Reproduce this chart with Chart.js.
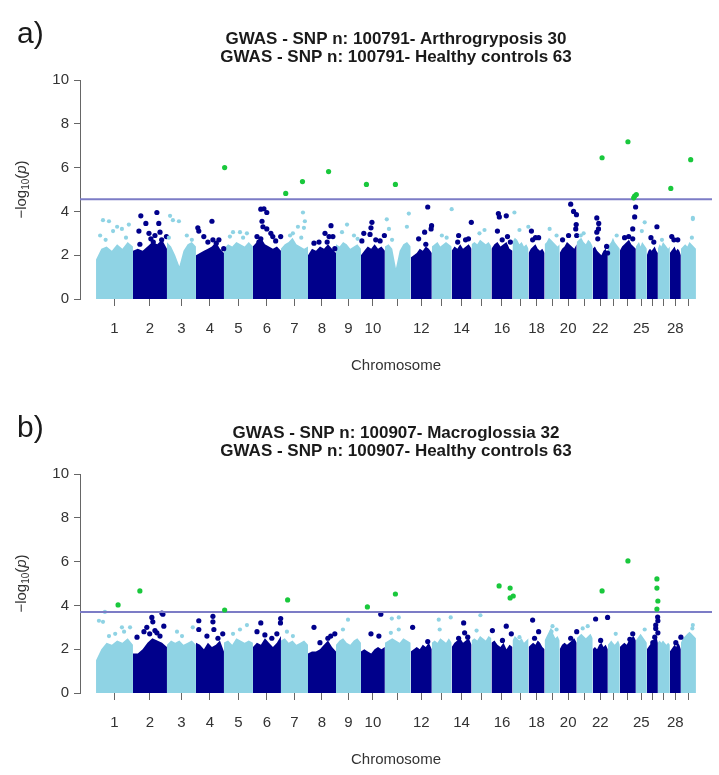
<!DOCTYPE html>
<html>
<head>
<meta charset="utf-8">
<script src="https://cdn.jsdelivr.net/npm/chart.js@4.4.1/dist/chart.umd.min.js"></script>
<style>
  html, body { margin: 0; padding: 0; background: #fff; overflow: hidden; }
  canvas { position: absolute; left: 0; }
  #chartA { top: 0; }
  #chartB { top: 394px; }
</style>
</head>
<body>
<canvas id="chartA" width="719" height="394"></canvas>
<canvas id="chartB" width="719" height="394"></canvas>
<script>
// chromosome lengths (Mb)
const chrLen = [154, 142, 121, 117, 121, 117, 113, 117, 104, 100, 108, 88, 83, 83, 83, 88, 67, 67, 63, 71, 67, 63, 50, 67, 46, 46, 50, 46, 63];
const chrLabels = ['1', '2', '3', '4', '5', '6', '7', '8', '9', '10', '', '12', '', '14', '', '16', '', '18', '', '20', '', '22', '', '', '25', '', '', '28', ''];
const yTicks = [0, 2, 4, 6, 8, 10];

// panel a) arthrogryposis
const titleA = ['GWAS - SNP n: 100791- Arthrogryposis 30', 'GWAS - SNP n: 100791- Healthy controls 63'];
const thresholdA = 4.56;
// top of the dense cloud, 8 samples along each chromosome
const cloudA = [
    [1.8, 2.3, 2.4, 2.2, 2.5, 2.3, 2.6, 2.4], [2.2, 2.3, 2.2, 2.4, 2.6, 2.5, 2.7, 2.3],
    [2.6, 2.4, 2.0, 1.5, 2.2, 2.5, 2.6, 2.4], [2.0, 2.1, 2.2, 2.3, 2.4, 2.6, 2.3, 2.1],
    [2.3, 2.5, 2.4, 2.6, 2.5, 2.4, 2.6, 2.4], [2.4, 2.6, 2.8, 2.5, 2.4, 2.3, 2.4, 2.2],
    [2.3, 2.5, 2.6, 2.8, 2.5, 2.4, 2.3, 2.4], [2.0, 2.3, 2.2, 2.4, 2.3, 2.5, 2.3, 2.1],
    [2.5, 2.4, 2.6, 2.5, 2.3, 2.4, 2.5, 2.3], [2.0, 2.2, 2.4, 2.3, 2.5, 2.3, 2.4, 2.2],
    [2.4, 2.5, 2.3, 1.4, 2.2, 2.5, 2.6, 2.4], [1.9, 2.0, 2.1, 2.3, 2.2, 2.4, 2.3, 2.1],
    [2.4, 2.5, 2.6, 2.4, 2.5, 2.6, 2.5, 2.4], [2.2, 2.4, 2.3, 2.5, 2.3, 2.4, 2.5, 2.3],
    [2.5, 2.6, 2.5, 2.7, 2.6, 2.5, 2.6, 2.4], [2.3, 2.5, 2.6, 2.4, 2.5, 2.6, 2.3, 2.2],
    [2.6, 2.8, 2.7, 2.5, 2.6, 2.4, 2.5, 2.3], [2.1, 2.3, 2.4, 2.5, 2.3, 2.2, 2.3, 2.1],
    [2.5, 2.6, 2.8, 2.7, 2.6, 2.5, 2.4, 2.5], [2.1, 2.3, 2.4, 2.6, 2.5, 2.4, 2.3, 2.5],
    [2.6, 2.7, 2.8, 2.6, 2.5, 2.7, 2.6, 2.4], [2.3, 2.4, 2.2, 2.1, 2.0, 2.2, 2.3, 2.0],
    [2.3, 2.5, 2.6, 2.8, 2.6, 2.5, 2.4, 2.3], [2.2, 2.4, 2.5, 2.6, 2.7, 2.5, 2.4, 2.3],
    [2.4, 2.5, 2.6, 2.4, 2.6, 2.5, 2.4, 2.3], [2.0, 2.2, 2.3, 2.2, 2.3, 2.4, 2.2, 2.1],
    [2.3, 2.5, 2.4, 2.6, 2.5, 2.4, 2.3, 2.4], [2.1, 2.2, 2.3, 2.4, 2.2, 2.3, 2.2, 2.0],
    [2.3, 2.4, 2.5, 2.4, 2.6, 2.5, 2.4, 2.3]
];
// single SNPs above the cloud: [chromosome, position Mb, -log10 p]
const snpsA = [
    [1, 29, 3.6], [1, 54, 3.55], [1, 88, 3.3], [1, 137, 3.4], [1, 108, 3.2], [1, 71, 3.1], [1, 17, 2.9], [1, 125, 2.8], [1, 40, 2.7],
    [2, 100, 3.95], [2, 33, 3.8], [2, 108, 3.45], [2, 54, 3.45], [2, 25, 3.1], [2, 113, 3.05], [2, 75, 2.75], [2, 92, 2.9], [2, 67, 3.0], [2, 140, 2.85], [2, 29, 2.5], [2, 120, 2.7], [2, 85, 2.6],
    [3, 13, 3.8], [3, 25, 3.6], [3, 50, 3.55], [3, 83, 2.9], [3, 104, 2.7], [3, 8, 2.8],
    [4, 67, 3.55], [4, 8, 3.25], [4, 12, 3.1], [4, 33, 2.85], [4, 96, 2.7], [4, 116, 2.3], [4, 71, 2.7], [4, 50, 2.6], [4, 85, 2.55],
    [5, 38, 3.05], [5, 67, 3.05], [5, 96, 3.0], [5, 25, 2.85], [5, 80, 2.8],
    [6, 33, 4.1], [6, 46, 4.12], [6, 58, 3.95], [6, 38, 3.55], [6, 42, 3.3], [6, 58, 3.2], [6, 75, 3.0], [6, 33, 2.75], [6, 116, 2.85], [6, 17, 2.85], [6, 83, 2.85], [6, 95, 2.65], [6, 25, 2.6],
    [7, 92, 3.95], [7, 100, 3.55], [7, 96, 3.25], [7, 71, 3.3], [7, 50, 3.0], [7, 38, 2.9], [7, 85, 2.8],
    [8, 96, 3.35], [8, 71, 3.0], [8, 88, 2.85], [8, 104, 2.85], [8, 25, 2.55], [8, 112, 2.3], [8, 46, 2.6], [8, 80, 2.6],
    [9, 46, 3.4], [9, 25, 3.05], [9, 75, 2.9], [9, 90, 2.75],
    [10, 46, 3.5], [10, 42, 3.25], [10, 12, 3.0], [10, 38, 2.95], [10, 4, 2.65], [10, 98, 2.9], [10, 62, 2.7], [10, 80, 2.65],
    [11, 8, 3.64], [11, 17, 3.2], [11, 100, 3.9], [11, 92, 3.3], [11, 30, 2.7],
    [12, 71, 4.2], [12, 87, 3.35], [12, 85, 3.2], [12, 58, 3.05], [12, 33, 2.75], [12, 63, 2.5],
    [13, 83, 4.1], [13, 42, 2.9], [13, 62, 2.8],
    [14, 82, 3.5], [14, 29, 2.9], [14, 58, 2.7], [14, 25, 2.6], [14, 70, 2.75],
    [15, 33, 3.0], [15, 54, 3.15],
    [16, 29, 3.9], [16, 33, 3.75], [16, 62, 3.8], [16, 25, 3.1], [16, 67, 2.85], [16, 79, 2.6], [16, 45, 2.7],
    [17, 8, 3.95], [17, 66, 3.3], [17, 29, 3.15],
    [18, 12, 3.1], [18, 29, 2.8], [18, 42, 2.8], [18, 17, 2.7],
    [19, 21, 3.2], [19, 50, 2.9],
    [20, 46, 4.33], [20, 58, 4.0], [20, 70, 3.85], [20, 69, 3.4], [20, 67, 3.2], [20, 71, 2.9], [20, 37, 2.9], [20, 12, 2.7],
    [21, 17, 2.9], [21, 29, 3.0],
    [22, 17, 3.7], [22, 25, 3.45], [22, 24, 3.2], [22, 17, 3.05], [22, 21, 2.75], [22, 62, 2.1], [22, 58, 2.4],
    [23, 37, 2.9],
    [24, 66, 4.2], [24, 62, 3.75], [24, 54, 3.2], [24, 37, 2.85], [24, 54, 2.75], [24, 20, 2.8],
    [25, 37, 3.5], [25, 25, 3.1],
    [26, 42, 3.3], [26, 17, 2.8], [26, 29, 2.6],
    [27, 17, 2.7],
    [28, 8, 2.85], [28, 17, 2.7], [28, 33, 2.7],
    [29, 50, 3.7], [29, 50, 3.65], [29, 46, 2.8]
];
// SNPs above the significance line (green)
const hitsA = [
    [5, 3, 6.0], [7, 20, 4.82], [7, 90, 5.36], [8, 86, 5.82], [10, 23, 5.23], [11, 44, 5.23],
    [22, 39, 6.45], [24, 34, 7.18], [24, 58, 4.62], [24, 62, 4.7], [25, 2, 4.77], [28, 4, 5.05], [29, 41, 6.36]
];

// panel b) macroglossia
const titleB = ['GWAS - SNP n: 100907- Macroglossia 32', 'GWAS - SNP n: 100907- Healthy controls 63'];
const thresholdB = 3.7;
const cloudB = [
    [1.5, 2.0, 2.3, 2.2, 2.4, 2.3, 2.5, 2.2], [1.8, 1.8, 2.0, 2.3, 2.5, 2.4, 2.3, 2.1],
    [2.2, 2.4, 2.3, 2.4, 2.2, 2.3, 2.4, 2.2], [2.3, 2.2, 2.0, 2.3, 2.1, 2.2, 2.4, 1.9],
    [2.3, 2.4, 2.2, 2.5, 2.4, 2.3, 2.4, 2.3], [2.1, 2.3, 2.2, 2.5, 2.3, 2.1, 2.3, 2.6],
    [2.4, 2.5, 2.3, 2.4, 2.2, 2.3, 2.4, 2.2], [1.8, 1.9, 1.9, 2.0, 2.2, 2.4, 2.1, 1.9],
    [2.2, 2.4, 2.5, 2.3, 2.2, 2.4, 2.5, 2.3], [1.9, 2.0, 1.9, 1.8, 2.0, 2.1, 2.0, 2.1],
    [2.3, 2.4, 2.5, 2.4, 2.3, 2.5, 2.4, 2.3], [1.9, 2.0, 2.1, 2.0, 2.2, 2.1, 2.3, 2.0],
    [2.3, 2.4, 2.3, 2.5, 2.4, 2.3, 2.5, 2.3], [2.1, 2.3, 2.4, 2.5, 2.3, 2.4, 2.5, 2.2],
    [2.4, 2.5, 2.4, 2.6, 2.5, 2.4, 2.6, 2.5], [2.3, 2.4, 2.2, 2.1, 2.3, 2.0, 2.2, 2.1],
    [2.4, 2.6, 2.5, 2.4, 2.5, 2.3, 2.4, 2.5], [2.1, 2.2, 2.3, 2.2, 2.4, 2.3, 2.1, 2.0],
    [2.4, 2.6, 2.8, 3.0, 2.7, 2.5, 2.6, 2.4], [2.0, 2.2, 2.3, 2.2, 2.3, 2.4, 2.5, 2.3],
    [2.5, 2.6, 2.7, 2.6, 2.5, 2.6, 2.7, 2.5], [2.0, 2.1, 2.0, 2.2, 2.3, 2.1, 2.2, 2.0],
    [2.2, 2.3, 2.4, 2.3, 2.2, 2.3, 2.4, 2.2], [2.1, 2.2, 2.3, 2.2, 2.4, 2.5, 2.6, 2.4],
    [2.4, 2.5, 2.6, 2.7, 2.6, 2.5, 2.4, 2.3], [2.0, 2.1, 2.2, 2.3, 2.4, 2.5, 2.6, 2.3],
    [2.3, 2.4, 2.3, 2.4, 2.3, 2.2, 2.3, 2.2], [1.9, 2.0, 2.1, 2.2, 2.1, 2.3, 2.2, 2.0],
    [2.3, 2.5, 2.6, 2.7, 2.8, 2.7, 2.6, 2.5]
];
const snpsB = [
    [1, 12, 3.3], [1, 29, 3.25], [1, 37, 3.7], [1, 108, 3.0], [1, 142, 3.0], [1, 54, 2.6], [1, 117, 2.8], [1, 80, 2.7],
    [2, 79, 3.45], [2, 121, 3.65], [2, 125, 3.6], [2, 83, 3.25], [2, 58, 3.0], [2, 17, 2.55], [2, 129, 3.05], [2, 92, 2.85], [2, 46, 2.8], [2, 113, 2.6], [2, 70, 2.7], [2, 100, 2.75],
    [3, 42, 2.8], [3, 108, 3.0], [3, 63, 2.6],
    [4, 71, 3.5], [4, 71, 3.25], [4, 12, 3.3], [4, 12, 2.9], [4, 75, 2.9], [4, 112, 2.7], [4, 46, 2.6], [4, 92, 2.5],
    [5, 67, 2.9], [5, 96, 3.1], [5, 38, 2.7],
    [6, 33, 3.2], [6, 17, 2.8], [6, 116, 3.4], [6, 115, 3.2], [6, 50, 2.65], [6, 79, 2.5], [6, 100, 2.7],
    [7, 25, 2.8], [7, 50, 2.6],
    [8, 25, 3.0], [8, 112, 2.7], [8, 83, 2.5], [8, 50, 2.3], [8, 95, 2.6],
    [9, 50, 3.35], [9, 29, 2.9],
    [10, 83, 3.6], [10, 42, 2.7], [10, 75, 2.6],
    [11, 29, 3.4], [11, 58, 3.45], [11, 58, 2.9], [11, 25, 2.75],
    [12, 8, 3.0], [12, 71, 2.35],
    [13, 29, 3.35], [13, 79, 3.45], [13, 33, 2.9],
    [14, 50, 3.2], [14, 54, 2.75], [14, 29, 2.5], [14, 67, 2.55],
    [15, 37, 3.55], [15, 21, 2.85],
    [16, 4, 2.85], [16, 62, 3.05], [16, 83, 2.7], [16, 46, 2.4],
    [17, 29, 2.55],
    [18, 17, 3.33], [18, 42, 2.8], [18, 25, 2.5],
    [19, 33, 3.05], [19, 50, 2.9], [19, 29, 2.8],
    [20, 71, 2.8], [20, 46, 2.5],
    [21, 25, 2.95], [21, 46, 3.05],
    [22, 12, 3.38], [22, 33, 2.4], [22, 62, 3.45],
    [23, 33, 2.7],
    [24, 54, 2.7], [24, 42, 2.45],
    [25, 37, 2.9],
    [26, 45, 3.47], [26, 46, 3.3], [26, 37, 3.1], [26, 37, 2.95], [26, 46, 2.75], [26, 33, 2.55], [26, 25, 2.3],
    [28, 46, 2.55], [28, 25, 2.3],
    [29, 50, 3.1], [29, 48, 2.95]
];
const hitsB = [
    [1, 92, 4.02], [2, 29, 4.66], [5, 3, 3.79], [7, 28, 4.25], [10, 27, 3.93], [11, 44, 4.52],
    [16, 32, 4.89], [16, 78, 4.79], [16, 78, 4.34], [17, 3, 4.43], [22, 39, 4.66], [24, 34, 6.03],
    [26, 42, 5.21], [26, 42, 4.79], [26, 46, 4.2], [26, 42, 3.83]
];

const LIGHT = '#8fd3e4';
const DARK = '#00008b';
const GREEN = '#19c83c';
const LINE = '#7c7cc6';
const FONT = "'Liberation Sans', Arial, sans-serif";

const chrStart = [];
let acc = 0;
chrLen.forEach(function (l) { chrStart.push(acc); acc += l; });
const totalLen = acc;
const xMin = -67, xMax = totalLen + 67;
const chrMid = chrLen.map((l, i) => chrStart[i] + l / 2);

function toXY(list) {
    return list.map(p => ({ x: chrStart[p[0] - 1] + p[1], y: p[2] }));
}

function makeChart(id, letter, title, cloud, snps, hits, thr) {
    const datasets = [];
    datasets.push({
        type: 'scatter', data: toXY(hits), order: 0,
        pointRadius: 2.6, pointBackgroundColor: GREEN, pointBorderWidth: 0
    });
    datasets.push({
        type: 'line', data: [{ x: xMin, y: thr }, { x: xMax, y: thr }], order: 1,
        borderColor: LINE, borderWidth: 2, pointRadius: 0, fill: false
    });
    datasets.push({
        type: 'scatter', data: toXY(snps), order: 2,
        pointBorderWidth: 0,
        pointRadius: snps.map(p => p[0] % 2 ? 2.1 : 2.6),
        pointBackgroundColor: snps.map(p => p[0] % 2 ? LIGHT : DARK)
    });
    cloud.forEach(function (prof, i) {
        const n = prof.length;
        const pts = prof.map((v, k) => ({ x: chrStart[i] + chrLen[i] * k / (n - 1), y: v }));
        datasets.push({
            type: 'line', data: pts, order: 3,
            fill: 'origin', backgroundColor: i % 2 ? DARK : LIGHT,
            borderWidth: 0, pointRadius: 0, tension: 0
        });
    });

    const textPlugin = {
        id: 'texts',
        afterDraw(chart) {
            const ctx = chart.ctx;
            const area = chart.chartArea;
            const cx = (area.left + area.right) / 2;
            ctx.save();
            ctx.fillStyle = '#1a1a1a';
            ctx.textAlign = 'center';
            ctx.textBaseline = 'middle';
            ctx.font = 'bold 17px ' + FONT;
            ctx.fillText(title[0], cx, 39);
            ctx.fillText(title[1], cx, 57);
            ctx.font = '30px ' + FONT;
            ctx.textAlign = 'left';
            ctx.fillText(letter, 17, 35);
            ctx.fillStyle = '#333';
            ctx.font = '15px ' + FONT;
            ctx.textAlign = 'center';
            ctx.fillText('Chromosome', cx, 366);
            // y axis title: -log10(p)
            ctx.translate(22, (area.top + area.bottom) / 2);
            ctx.rotate(-Math.PI / 2);
            ctx.textAlign = 'left';
            const f1 = '15px ' + FONT, f2 = '10px ' + FONT, f3 = 'italic 15px ' + FONT;
            ctx.font = f1; const w1 = ctx.measureText('\u2212log').width;
            ctx.font = f2; const w2 = ctx.measureText('10').width;
            ctx.font = f1; const w3 = ctx.measureText('(').width;
            ctx.font = f3; const w4 = ctx.measureText('p').width;
            ctx.font = f1; const w5 = ctx.measureText(')').width;
            let x = -(w1 + w2 + w3 + w4 + w5) / 2;
            ctx.font = f1; ctx.fillText('\u2212log', x, 0); x += w1;
            ctx.font = f2; ctx.fillText('10', x, 4); x += w2;
            ctx.font = f1; ctx.fillText('(', x, 0); x += w3;
            ctx.font = f3; ctx.fillText('p', x, 0); x += w4;
            ctx.font = f1; ctx.fillText(')', x, 0);
            ctx.restore();
        }
    };

    return new Chart(document.getElementById(id), {
        type: 'scatter',
        data: { datasets: datasets },
        plugins: [textPlugin],
        options: {
            responsive: false,
            animation: false,
            devicePixelRatio: 1,
            layout: { padding: { left: 0, right: 7, top: 80, bottom: 0 } },
            plugins: { legend: { display: false }, tooltip: { enabled: false } },
            elements: { point: { hitRadius: 0 } },
            clip: false,
            scales: {
                x: {
                    type: 'linear', min: xMin, max: xMax,
                    afterFit(scale) { scale.height = 95; },
                    afterBuildTicks(scale) { scale.ticks = chrMid.map(v => ({ value: v })); },
                    border: { display: false },
                    grid: { drawOnChartArea: false, drawTicks: true, tickLength: 7, color: '#666', lineWidth: 1 },
                    ticks: {
                        autoSkip: false, maxRotation: 0, padding: 14, color: '#333',
                        font: { family: FONT, size: 15 },
                        callback: (v, i) => chrLabels[i]
                    }
                },
                y: {
                    min: 0, max: 10,
                    afterFit(scale) { scale.width = 80; },
                    afterBuildTicks(scale) { scale.ticks = yTicks.map(v => ({ value: v })); },
                    border: { display: true, color: '#666', width: 1 },
                    grid: { drawOnChartArea: false, drawTicks: true, tickLength: 6, color: '#666' },
                    ticks: { padding: 5, color: '#333', font: { family: FONT, size: 15 } }
                }
            }
        }
    });
}

makeChart('chartA', 'a)', titleA, cloudA, snpsA, hitsA, thresholdA);
makeChart('chartB', 'b)', titleB, cloudB, snpsB, hitsB, thresholdB);
</script>
</body>
</html>
